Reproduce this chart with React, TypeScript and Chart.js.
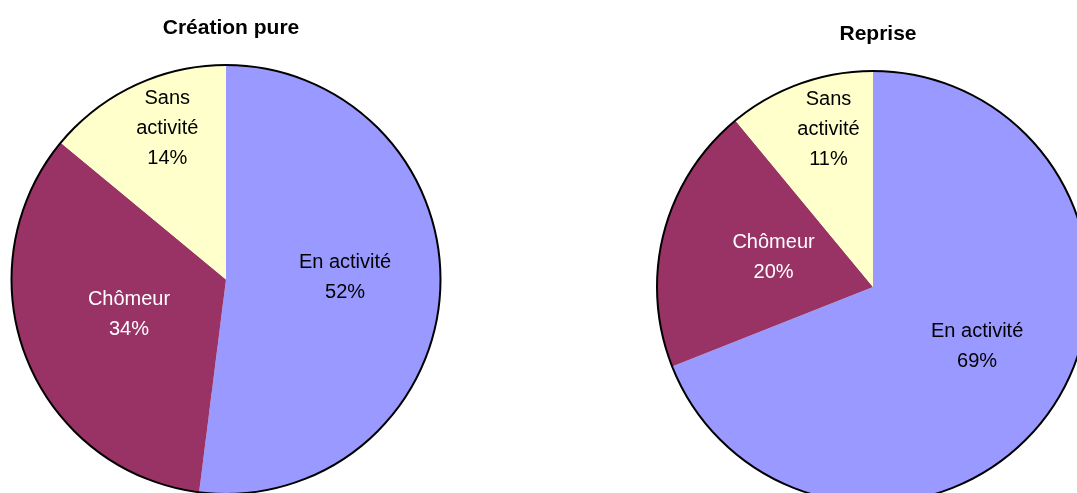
import React, { useEffect, useRef } from "react";
import { Chart, registerables } from "chart.js";

Chart.register(...registerables);

const categories = ["En activité", "Chômeur", "Sans activité"];
const labelLines = [["En activité"], ["Chômeur"], ["Sans", "activité"]];
const creationValues = [52, 34, 14];
const repriseValues = [69, 20, 11];
const titles = ["Création pure", "Reprise"];
const colors = ["#9999FF", "#993366", "#FFFFCC"];
const textColors = ["#000000", "#FFFFFF", "#000000"];
const labelRadiusFraction = [0.555, 0.48, 0.757];
const labelAngleShiftDeg = [-4.5, 2, 4];

const FONT = "'Liberation Sans', Arial, Helvetica, sans-serif";

const piePlugin = {
  id: "pieDecor",
  afterDatasetsDraw(chart: any) {
    const ctx = chart.ctx;
    const meta = chart.getDatasetMeta(0);
    const data = chart.data.datasets[0].data as number[];
    if (!meta.data.length) return;
    const first: any = meta.data[0];
    const cx = first.x;
    const cy = first.y;
    const r = first.outerRadius;
    ctx.save();
    ctx.beginPath();
    ctx.arc(cx, cy, r, 0, Math.PI * 2);
    ctx.strokeStyle = "#000";
    ctx.lineWidth = 2;
    ctx.stroke();

    ctx.font = `20px ${FONT}`;
    ctx.textAlign = "center";
    ctx.textBaseline = "middle";
    meta.data.forEach((arc: any, i: number) => {
      const mid = (arc.startAngle + arc.endAngle) / 2 + (labelAngleShiftDeg[i] * Math.PI) / 180;
      const d = r * labelRadiusFraction[i];
      const x = cx + Math.cos(mid) * d;
      const y = cy + Math.sin(mid) * d;
      const lines = [...labelLines[i], `${data[i]}%`];
      const lh = 30;
      ctx.fillStyle = textColors[i];
      lines.forEach((line, j) => {
        ctx.fillText(line, x, y + (j - (lines.length - 1) / 2) * lh);
      });
    });

    const title = chart.options.plugins.pieDecor?.title;
    if (title) {
      ctx.font = `bold 21px ${FONT}`;
      ctx.fillStyle = "#000";
      ctx.fillText(title, cx + 5, chart.chartArea.top - 37);
    }
    ctx.restore();
  },
};

function PieChart(props: {
  values: number[];
  title: string;
  width: number;
  height: number;
  left: number;
  padding: { left: number; right: number; top: number; bottom: number };
}) {
  const ref = useRef<HTMLCanvasElement | null>(null);
  useEffect(() => {
    if (!ref.current) return;
    const chart = new Chart(ref.current, {
      type: "pie",
      data: {
        labels: categories,
        datasets: [
          {
            data: props.values,
            backgroundColor: colors,
            borderWidth: 0,
          },
        ],
      },
      options: {
        responsive: false,
        animation: false,
        layout: { padding: props.padding },
        plugins: {
          legend: { display: false },
          tooltip: { enabled: false },
          pieDecor: { title: props.title },
        } as any,
      },
      plugins: [piePlugin],
    });
    return () => chart.destroy();
  }, []);
  return (
    <canvas
      ref={ref}
      width={props.width}
      height={props.height}
      style={{ position: "absolute", left: props.left, top: 0, width: props.width, height: props.height }}
    />
  );
}

export default function App() {
  return (
    <div
      style={{
        position: "fixed",
        left: 0,
        top: 0,
        width: 1077,
        height: 493,
        overflow: "hidden",
        background: "#fff",
      }}
    >
      <PieChart
        values={creationValues}
        title={titles[0]}
        width={538}
        height={520}
        left={0}
        padding={{ left: 11.5, right: 97.5, top: 65, bottom: 26 }}
      />
      <PieChart
        values={repriseValues}
        title={titles[1]}
        width={560}
        height={520}
        left={538}
        padding={{ left: 119, right: 9, top: 71, bottom: 17 }}
      />
    </div>
  );
}
